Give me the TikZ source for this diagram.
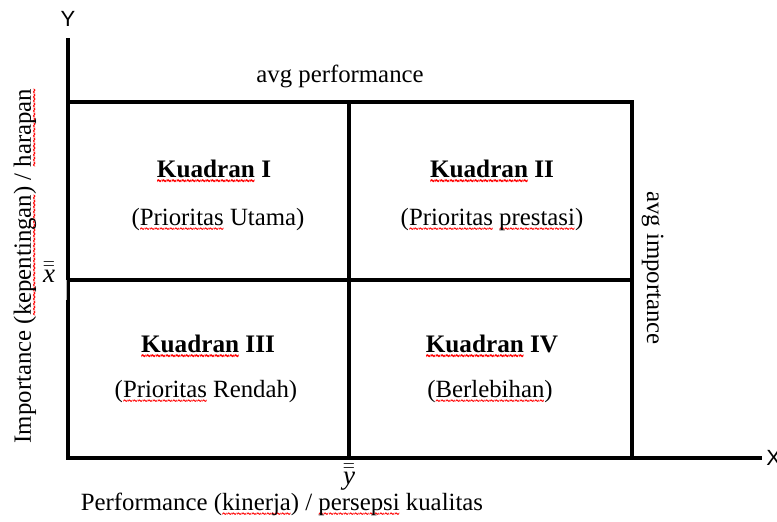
\documentclass[tikz,border=0pt]{standalone}
\usepackage{fontspec}
\setmainfont{Liberation Serif}
\newfontfamily\axisfont{Liberation Sans}
\newfontfamily\wavefont{DejaVu Sans}
\newcommand\wavepiece{\hbox{\kern-0.3pt\scalebox{0.42}[1]{\wavefont\fontsize{8.5}{8.5}\selectfont\char"7E}\kern-0.3pt}}
\newcommand\rw[1]{\setbox0=\hbox{#1}\rlap{\raisebox{-4.3pt}[0pt][0pt]{\textcolor{red}{\hbox to \wd0{\xleaders\wavepiece\hfil}}}}\box0\relax}
\begin{document}
\begin{tikzpicture}[x=0.5pt,y=-0.5pt,
  thick line/.style={line width=2pt, line cap=rect},
  lbl/.style={font=\fontsize{12.4}{15}\selectfont, inner sep=0pt},
  qtitle/.style={lbl, font=\fontsize{12.6}{15}\selectfont\bfseries, anchor=base},
  qsub/.style={lbl, anchor=base},
  axlbl/.style={font=\axisfont\fontsize{11}{13}\selectfont, inner sep=0pt}]
\useasboundingbox (0,0) rectangle (777,522);
% axes
\coordinate (O) at (68,458);
\coordinate (Ytop) at (68,40);
\coordinate (Xend) at (760,458);
\draw[thick line] (Ytop) -- (O) -- (Xend);
\node[axlbl] (ylab) at (68,19) {Y};
\node[axlbl, anchor=west] (xlab) at (766,458) {X};
% box
\coordinate (TL) at (68,102);
\coordinate (TR) at (632,102);
\coordinate (BR) at (632,458);
\coordinate (TM) at (349,102);
\coordinate (BM) at (349,458);
\coordinate (ML) at (68,280);
\coordinate (MR) at (632,280);
\draw[thick line] (TL) -- (TR) -- (BR);
\draw[thick line] (TM) -- (BM);
\draw[thick line] (ML) -- (MR);
% small grey mark
\coordinate (g1) at (66.5,280);
\coordinate (g2) at (66.5,300);
\draw[gray!60, line width=0.6pt] (g1) -- (g2);
% quadrant labels
\node[qtitle] (k1) at (214,178) {\rw{Kuadran} I};
\node[qsub] (p1) at (218,226) {(\rw{Prioritas} Utama)};
\node[qtitle] (k2) at (492,178) {\rw{Kuadran} II};
\node[qsub] (p2) at (492,226) {(\rw{Prioritas} \rw{prestasi})};
\node[qtitle] (k3) at (208,353) {\rw{Kuadran} III};
\node[qsub] (p3) at (206,398) {(\rw{Prioritas} Rendah)};
\node[qtitle] (k4) at (492,353) {\rw{Kuadran} IV};
\node[qsub] (p4) at (490,398) {(\rw{Berlebihan})};
% axis descriptions
\node[lbl, anchor=base] (avgp) at (340,83) {avg performance};
\node[lbl, anchor=base, rotate=-90] (avgi) at (647,268) {avg importance};
\node[lbl, anchor=base, rotate=90] (imp) at (31,266) {Importance (\rw{kepentingan}) / \rw{harapan}};
\node[lbl, anchor=base] (perf) at (282,511) {Performance (\rw{kinerja}) / \rw{persepsi} kualitas};
\node[lbl] (xbar) at (49,272) {\fontsize{13.5}{15}\selectfont$\bar{\bar{\textit{x}}}$};
\node[lbl] (ybar) at (349,477) {\fontsize{13.5}{15}\selectfont$\bar{\bar{\textit{y}}}$};
\end{tikzpicture}
\end{document}
